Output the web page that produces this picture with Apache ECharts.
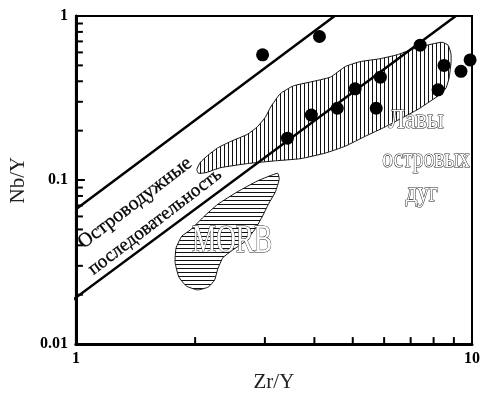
<!DOCTYPE html>
<html><head><meta charset="utf-8">
<script src="https://cdn.jsdelivr.net/npm/echarts@6/dist/echarts.min.js"></script>
<style>html,body{margin:0;padding:0;background:#fff}#c{width:483px;height:398px}</style>
</head><body><div id="c"></div>
<script>
// ---- data ----
const xTickLabels = ['1', '10'];
const yTickLabels = ['0.01', '0.1', '1'];
const xMinorTicks = [2, 3, 4, 5, 6, 7, 8, 9];
const yMinorTicks = [0.02, 0.03, 0.04, 0.05, 0.06, 0.07, 0.08, 0.09, 0.2, 0.3, 0.4, 0.5, 0.6, 0.7, 0.8, 0.9];

const samplesZr = [2.96, 4.12, 7.40, 8.50, 9.38, 9.89, 5.87, 5.07, 8.21, 4.57, 5.73, 3.93, 3.42];
const samplesNb = [0.58, 0.75, 0.664, 0.50, 0.46, 0.54, 0.424, 0.36, 0.355, 0.274, 0.274, 0.249, 0.18];

const upperLineZr = [1, 4.5];
const upperLineNb = [0.0664, 1];
const lowerLineZr = [0.955, 9.1];
const lowerLineNb = [0.0177, 1];

const arcZr = [2.02, 2.06, 2.15, 2.28, 2.46, 2.71, 2.87, 3.01, 3.10, 3.28, 3.54, 3.91, 4.39, 4.79, 5.22, 5.86, 6.47, 7.10, 7.70, 8.40, 8.70, 8.85, 8.85, 8.75, 8.60, 8.30, 7.84, 7.31, 6.59, 6.04, 5.38, 4.79, 4.26, 3.69, 3.19, 2.71, 2.32, 2.13, 2.04];
const arcNb = [0.116, 0.128, 0.141, 0.157, 0.172, 0.190, 0.211, 0.242, 0.278, 0.336, 0.375, 0.396, 0.424, 0.492, 0.527, 0.549, 0.580, 0.629, 0.664, 0.692, 0.664, 0.588, 0.513, 0.418, 0.365, 0.332, 0.302, 0.270, 0.236, 0.211, 0.185, 0.161, 0.146, 0.135, 0.131, 0.126, 0.119, 0.111, 0.110];

const morbZr = [3.23, 3.26, 3.19, 3.06, 2.96, 2.84, 2.68, 2.49, 2.35, 2.28, 2.24, 2.16, 2.03, 1.90, 1.82, 1.78, 1.79, 1.85, 1.95, 2.10, 2.28, 2.56, 2.87];
const morbNb = [0.110, 0.101, 0.0849, 0.0711, 0.0604, 0.0506, 0.0424, 0.0375, 0.0336, 0.0286, 0.0246, 0.0223, 0.0214, 0.0226, 0.0256, 0.0314, 0.0385, 0.0454, 0.0499, 0.0596, 0.0711, 0.0849, 0.0986];

// ---- helpers ----
const zip = (a, b) => a.map((v, i) => [v, b[i]]);
const SERIF = '"Liberation Serif", "Times New Roman", serif';
function hatch(vertical, step) {
  const c = document.createElement('canvas');
  c.width = step; c.height = step;
  const g = c.getContext('2d');
  g.fillStyle = '#fff'; g.fillRect(0, 0, step, step);
  g.fillStyle = '#111';
  if (vertical) g.fillRect(0, 0, 1, step); else g.fillRect(0, 0, step, 1);
  return c;
}
function pickLabel(labels, v) {
  let best = labels[0], d = Infinity;
  labels.forEach(l => { const dd = Math.abs(Math.log10(parseFloat(l)) - Math.log10(v)); if (dd < d) { d = dd; best = l; } });
  return best;
}
function polygonSeries(zr, nb, pattern) {
  return {
    type: 'custom', z: 1, silent: true,
    data: zip(zr, nb),
    renderItem: function (params, api) {
      if (params.dataIndex !== 0) return null;
      const pts = zip(zr, nb).map(p => api.coord(p));
      return {
        type: 'polygon',
        shape: { points: pts, smooth: 0.15 },
        style: { fill: { image: pattern, repeat: 'repeat' }, stroke: '#111', lineWidth: 1 }
      };
    }
  };
}

const chart = echarts.init(document.getElementById('c'), null, { renderer: 'canvas' });
const xMin = 1, xMax = 10, yMin = 0.01, yMax = 1;

const option = {
  animation: false,
  backgroundColor: '#fff',
  grid: { left: 75, right: 11, top: 16, bottom: 44, show: true, borderColor: '#000', borderWidth: 2, backgroundColor: 'transparent' },
  xAxis: {
    type: 'log', logBase: 10, min: xMin, max: xMax,
    name: 'Zr/Y', nameLocation: 'middle', nameGap: 25,
    nameTextStyle: { fontFamily: SERIF, fontSize: 21, color: '#222' },
    axisLine: { show: true, lineStyle: { color: '#000', width: 3 } },
    axisTick: { show: true, inside: true, length: 8, lineStyle: { color: '#000', width: 2 } },
    axisLabel: { margin: 7, fontFamily: SERIF, fontWeight: 'bold', fontSize: 16, color: '#000', formatter: v => pickLabel(xTickLabels, v) },
    splitLine: { show: false }
  },
  yAxis: {
    type: 'log', logBase: 10, min: yMin, max: yMax,
    name: 'Nb/Y', nameLocation: 'middle', nameGap: 46, nameRotate: 90,
    nameTextStyle: { fontFamily: SERIF, fontSize: 21, color: '#222' },
    axisLine: { show: true, lineStyle: { color: '#000', width: 3 } },
    axisTick: { show: true, inside: true, length: 9, lineStyle: { color: '#000', width: 2 } },
    axisLabel: { margin: 8, fontFamily: SERIF, fontWeight: 'bold', fontSize: 16, color: '#000', formatter: v => pickLabel(yTickLabels, v) },
    splitLine: { show: false }
  },
  series: [
    polygonSeries(arcZr, arcNb, hatch(true, 4)),
    polygonSeries(morbZr, morbNb, hatch(false, 4)),
    {
      type: 'line', z: 3, clip: false, silent: true, symbol: 'none',
      data: zip(upperLineZr, upperLineNb),
      lineStyle: { color: '#000', width: 2.5 }
    },
    {
      type: 'line', z: 3, clip: false, silent: true, symbol: 'none',
      data: zip(lowerLineZr, lowerLineNb),
      lineStyle: { color: '#000', width: 2.5 }
    },
    {
      type: 'scatter', z: 4, silent: true, symbol: 'circle', symbolSize: 13,
      data: zip(samplesZr, samplesNb),
      itemStyle: { color: '#000', opacity: 1 }
    },
    {
      type: 'custom', z: 5, silent: true, clip: false,
      data: xMinorTicks.map(v => [v, yMin]),
      renderItem: function (params, api) {
        const p = api.coord([api.value(0), api.value(1)]);
        return { type: 'line', shape: { x1: p[0], y1: p[1], x2: p[0], y2: p[1] - 7 }, style: { stroke: '#000', lineWidth: 2 } };
      }
    },
    {
      type: 'custom', z: 5, silent: true, clip: false,
      data: yMinorTicks.map(v => [xMin, v]),
      renderItem: function (params, api) {
        const p = api.coord([api.value(0), api.value(1)]);
        return { type: 'line', shape: { x1: p[0], y1: p[1], x2: p[0] + 7, y2: p[1] }, style: { stroke: '#000', lineWidth: 2 } };
      }
    }
  ],
  graphic: [
    { type: 'text', x: 232, y: 241, scaleX: 0.68, z: 10,
      style: { text: 'MORB', font: '40px ' + SERIF, fill: '#fff', stroke: '#222', lineWidth: 1.1, textAlign: 'center', textVerticalAlign: 'middle' } },
    { type: 'text', x: 416, y: 121, scaleX: 0.9, z: 10,
      style: { text: 'Лавы', font: '27px ' + SERIF, fill: '#fff', stroke: '#222', lineWidth: 1.1, textAlign: 'center', textVerticalAlign: 'middle' } },
    { type: 'text', x: 426, y: 160, scaleX: 0.8, z: 10,
      style: { text: 'островых', font: '27px ' + SERIF, fill: '#fff', stroke: '#222', lineWidth: 1.1, textAlign: 'center', textVerticalAlign: 'middle' } },
    { type: 'text', x: 422, y: 194, scaleX: 0.85, z: 10,
      style: { text: 'дуг', font: '27px ' + SERIF, fill: '#fff', stroke: '#222', lineWidth: 1.1, textAlign: 'center', textVerticalAlign: 'middle' } },
    { type: 'text', x: 135, y: 203, rotation: 0.653, z: 10,
      style: { text: 'Островодужные', font: '20px ' + SERIF, fill: '#000', stroke: '#000', lineWidth: 0.3, textAlign: 'center', textVerticalAlign: 'middle' } },
    { type: 'text', x: 155, y: 222, rotation: 0.653, z: 10,
      style: { text: 'последовательность', font: '19px ' + SERIF, fill: '#000', stroke: '#000', lineWidth: 0.3, textAlign: 'center', textVerticalAlign: 'middle' } }
  ]
};
chart.setOption(option);
</script>
</body></html>
